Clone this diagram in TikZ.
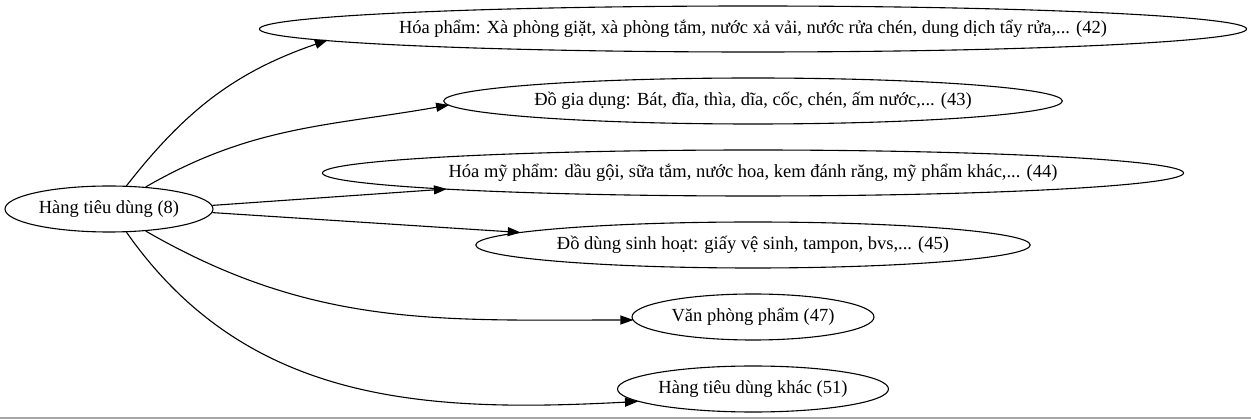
\documentclass[tikz,border=0pt]{standalone}
\usepackage{fontspec}
\setmainfont{Liberation Serif}
\usepackage{tikz}
\usetikzlibrary{shapes.geometric,arrows.meta}

\begin{document}
\begin{tikzpicture}[x=1pt,y=1pt,
    nhom/.style={ellipse, draw, line width=1.1pt, inner sep=0pt, minimum height=46pt,
                 font=\fontsize{18.5}{22}\selectfont},
    canh/.style={line width=1.1pt, -{Triangle[length=13pt,width=9pt]}}]
            \useasboundingbox (0,0) rectangle (1251,-419);
            \draw[gray!70, line width=1.2pt] (0,-418) -- (1251,-418);
            % goc
            \node[nhom, minimum width=208pt] (htd) at (109,-209) {Hàng tiêu dùng (8)};
            % cac nhom con
            \node[nhom, minimum width=983pt, inner xsep=-5pt] (hp) at (753,-29) {Hóa phẩm: Xà phòng giặt, xà phòng tắm, nước xả vải, nước rửa chén, dung dịch tẩy rửa,... (42)};
            \node[nhom, minimum width=617pt] (dgd) at (753,-101) {Đồ gia dụng: Bát, đĩa, thìa, dĩa, cốc, chén, ấm nước,... (43)};
            \node[nhom, minimum width=856pt] (hmp) at (753,-173) {Hóa mỹ phẩm: dầu gội, sữa tắm, nước hoa, kem đánh răng, mỹ phẩm khác,... (44)};
            \node[nhom, minimum width=552pt] (dsh) at (753,-245) {Đồ dùng sinh hoạt: giấy vệ sinh, tampon, bvs,... (45)};
            \node[nhom, minimum width=242pt] (vpp) at (753,-317) {Văn phòng phẩm (47)};
            \node[nhom, minimum width=271pt] (khac) at (753,-389) {Hàng tiêu dùng khác (51)};
            % canh
            \draw[canh] (htd.53.5) to[out=52, in=199] ([xshift=69pt, yshift=-11pt]hp.west);
            \draw[canh] (htd.31) to[out=30, in=190] ([xshift=6pt, yshift=-4pt]dgd.west);
            \draw[canh] (htd.2.8) -- ([xshift=125pt, yshift=-16pt]hmp.west);
            \draw[canh] (htd.-2.8) -- ([xshift=45.5pt, yshift=12.5pt]dsh.west);
            \draw[canh] (htd.-31) to[out=-30, in=180] ([xshift=2pt, yshift=-3pt]vpp.west);
            \draw[canh] (htd.-53.5) to[out=-55, in=183] ([xshift=21pt, yshift=-12.5pt]khac.west);
        \end{tikzpicture}
\end{document}
